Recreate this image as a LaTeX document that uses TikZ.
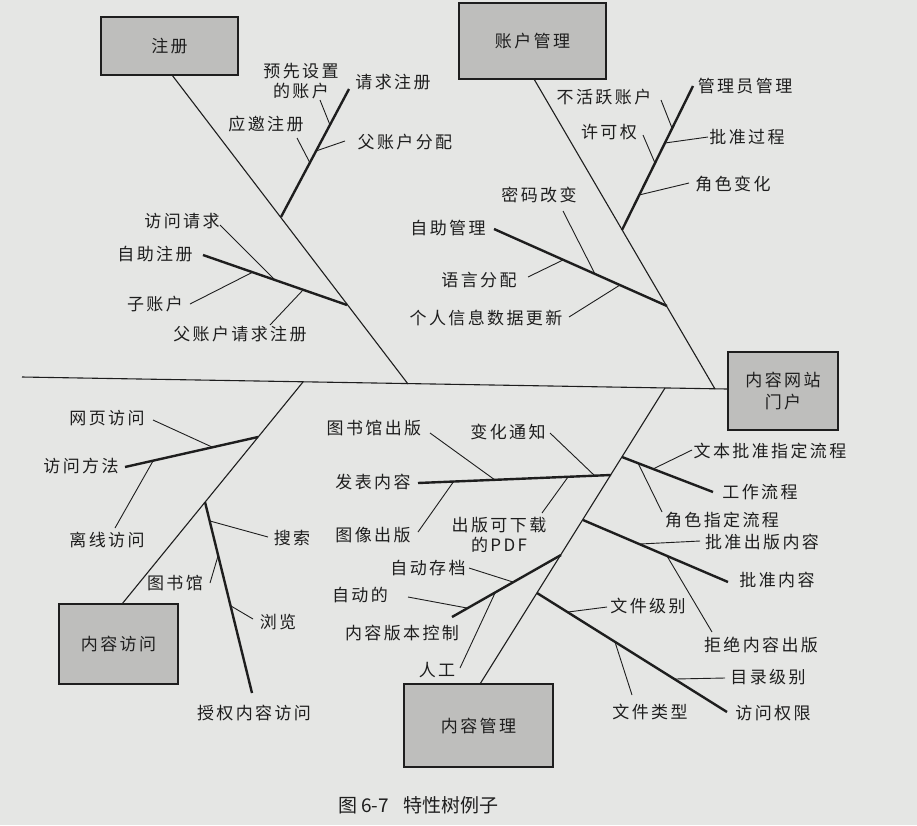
\documentclass[tikz,border=0pt]{standalone}
\usepackage{fontspec}
\newfontfamily\cjk[LetterSpace=14]{Noto Sans CJK SC}
\newfontfamily\cjkcap{Noto Sans CJK SC}
\definecolor{bgc}{RGB}{229,230,228}
\definecolor{boxc}{RGB}{190,190,188}
\definecolor{ink}{RGB}{30,30,30}
\tikzset{
  lbl/.style={font=\cjk\fontsize{17}{20}\selectfont, text=ink, inner sep=0pt, align=center},
  catbox/.style={draw=ink, fill=boxc, line width=1.4pt, inner sep=0pt, font=\cjk\fontsize{17}{22}\selectfont, text=ink, align=center},
  bone/.style={draw=ink, line width=1.1pt},
  limb/.style={draw=ink, line width=2.4pt},
  twig/.style={draw=ink, line width=0.9pt}
}
\begin{document}
\begin{tikzpicture}[x=1pt,y=-1pt]
\fill[bgc] (0,0) rectangle (917,825);
\useasboundingbox (0,0) rectangle (917,825);

% category boxes
\node[catbox, minimum width=137pt, minimum height=58pt] (reg) at (169.5,46) {注册};
\node[catbox, minimum width=147pt, minimum height=76pt] (acc) at (532.5,41) {账户管理};
\node[catbox, minimum width=110pt, minimum height=78pt] (head) at (783,391) {内容网站\\门户};
\node[catbox, minimum width=119pt, minimum height=80pt] (cacc) at (118.5,644) {内容访问};
\node[catbox, minimum width=149pt, minimum height=83pt] (cman) at (478.5,725.5) {内容管理};

% spine and main bones
\coordinate (sp0) at (22,377);
\coordinate (sp1) at (head.west |- 0,389);
\draw[bone] (sp0) -- (sp1);

\coordinate (b1a) at (172,75);   \coordinate (b1b) at (408,384);
\coordinate (b2a) at (534,79);   \coordinate (b2b) at (715,389);
\coordinate (b3a) at (122,604);  \coordinate (b3b) at (303,382);
\coordinate (b4a) at (480,684);  \coordinate (b4b) at (665,388);
\draw[bone] (b1a) -- (b1b);
\draw[bone] (b2a) -- (b2b);
\draw[bone] (b3a) -- (b3b);
\draw[bone] (b4a) -- (b4b);

% ===== 注册 =====
\node[lbl] (qqzc) at (393,82) {请求注册};
\node[lbl] (yxsz) at (301,81) {预先设置\\的账户};
\node[lbl] (fzhfp) at (405,142) {父账户分配};
\node[lbl] (yyzc) at (266,124) {应邀注册};
\coordinate (j1a) at (281,217); \coordinate (e1a) at (349,89);
\draw[limb] (j1a) -- (e1a);
\coordinate (t1) at (330,125); \coordinate (u1) at (320,100);
\draw[twig] (t1) -- (u1);
\coordinate (t2) at (316,151); \coordinate (u2) at (345,141);
\draw[twig] (t2) -- (u2);
\coordinate (t3) at (310,163); \coordinate (u3) at (297,138);
\draw[twig] (t3) -- (u3);

\node[lbl] (zzzc) at (155,254) {自助注册};
\node[lbl] (fwqq) at (182,221) {访问请求};
\node[lbl] (zzh) at (155,304) {子账户};
\node[lbl] (fzhqq) at (240,334) {父账户请求注册};
\coordinate (j1b) at (347,305); \coordinate (e1b) at (203,255);
\draw[limb] (j1b) -- (e1b);
\coordinate (t4) at (275,280); \coordinate (u4) at (220,225);
\draw[twig] (t4) -- (u4);
\coordinate (t5) at (253,272); \coordinate (u5) at (190,304);
\draw[twig] (t5) -- (u5);
\coordinate (t6) at (303,290); \coordinate (u6) at (270,325);
\draw[twig] (t6) -- (u6);

% ===== 账户管理 =====
\node[lbl] (glygl) at (745,86) {管理员管理};
\node[lbl] (bhyzh) at (604,97) {不活跃账户};
\node[lbl] (pzgc) at (747,137) {批准过程};
\node[lbl] (xkq) at (609,132) {许可权};
\node[lbl] (jsbh) at (733,184) {角色变化};
\coordinate (j2a) at (622,230); \coordinate (e2a) at (693,86);
\draw[limb] (j2a) -- (e2a);
\coordinate (t7) at (672,128); \coordinate (u7) at (661,100);
\draw[twig] (t7) -- (u7);
\coordinate (t8) at (665,143); \coordinate (u8) at (708,137);
\draw[twig] (t8) -- (u8);
\coordinate (t9) at (655,163); \coordinate (u9) at (643,135);
\draw[twig] (t9) -- (u9);
\coordinate (t10) at (639,195); \coordinate (u10) at (689,183);
\draw[twig] (t10) -- (u10);

\node[lbl] (zzgl) at (448,228) {自助管理};
\node[lbl] (mmgb) at (539,195) {密码改变};
\node[lbl] (yyfp) at (479,280) {语言分配};
\node[lbl] (grxx) at (486,318) {个人信息数据更新};
\coordinate (j2b) at (667,306); \coordinate (e2b) at (494,229);
\draw[limb] (j2b) -- (e2b);
\coordinate (t11) at (595,274); \coordinate (u11) at (563,211);
\draw[twig] (t11) -- (u11);
\coordinate (t12) at (563,260); \coordinate (u12) at (528,277);
\draw[twig] (t12) -- (u12);
\coordinate (t13) at (620,285); \coordinate (u13) at (569,317);
\draw[twig] (t13) -- (u13);

% ===== 内容访问 =====
\node[lbl] (fwff) at (81,466) {访问方法};
\node[lbl] (wyfw) at (107,418) {网页访问};
\node[lbl] (lxfw) at (107,540) {离线访问};
\coordinate (j3a) at (258,437); \coordinate (e3a) at (125,467);
\draw[limb] (j3a) -- (e3a);
\coordinate (t14) at (212,447); \coordinate (u14) at (153,420);
\draw[twig] (t14) -- (u14);
\coordinate (t15) at (153,461); \coordinate (u15) at (115,528);
\draw[twig] (t15) -- (u15);

\node[lbl] (sqnr) at (254,713) {授权内容访问};
\node[lbl] (ss) at (292,538) {搜索};
\node[lbl] (tsg) at (175,583) {图书馆};
\node[lbl] (ll) at (278,622) {浏览};
\coordinate (j3b) at (205,502); \coordinate (e3b) at (252,693);
\draw[limb] (j3b) -- (e3b);
\coordinate (t16) at (210,521); \coordinate (u16) at (268,537);
\draw[twig] (t16) -- (u16);
\coordinate (t17) at (218,556); \coordinate (u17) at (210,583);
\draw[twig] (t17) -- (u17);
\coordinate (t18) at (231,606); \coordinate (u18) at (253,619);
\draw[twig] (t18) -- (u18);

% ===== 内容管理 =====
\node[lbl] (fbnr) at (373,482) {发表内容};
\node[lbl] (tsgcb) at (374,428) {图书馆出版};
\node[lbl] (bhtz) at (508,432) {变化通知};
\node[lbl] (txcb) at (373,535) {图像出版};
\node[lbl] (pdf) at (499,535) {出版可下载\\的PDF};
\coordinate (j4a) at (611,475); \coordinate (e4a) at (418,483);
\draw[limb] (j4a) -- (e4a);
\coordinate (t19) at (495,480); \coordinate (u19) at (430,433);
\draw[twig] (t19) -- (u19);
\coordinate (t20) at (595,476); \coordinate (u20) at (550,433);
\draw[twig] (t20) -- (u20);
\coordinate (t21) at (454,481); \coordinate (u21) at (418,532);
\draw[twig] (t21) -- (u21);
\coordinate (t22) at (568,477); \coordinate (u22) at (542,513);
\draw[twig] (t22) -- (u22);

\node[lbl] (nrbb) at (402,633) {内容版本控制};
\node[lbl] (zdcd) at (428,568) {自动存档};
\node[lbl] (zdd) at (360,595) {自动的};
\node[lbl] (rg) at (437,670) {人工};
\coordinate (j4b) at (561,555); \coordinate (e4b) at (452,617);
\draw[limb] (j4b) -- (e4b);
\coordinate (t23) at (513,582); \coordinate (u23) at (469,568);
\draw[twig] (t23) -- (u23);
\coordinate (t24) at (467,608); \coordinate (u24) at (408,597);
\draw[twig] (t24) -- (u24);
\coordinate (t25) at (495,593); \coordinate (u25) at (460,668);
\draw[twig] (t25) -- (u25);

\node[lbl] (fwqx) at (773,713) {访问权限};
\node[lbl] (wjjb) at (648,606) {文件级别};
\node[lbl] (wjlx) at (650,712) {文件类型};
\node[lbl] (mljb) at (768,677) {目录级别};
\coordinate (j4c) at (537,593); \coordinate (e4c) at (727,712);
\draw[limb] (j4c) -- (e4c);
\coordinate (t26) at (568,612); \coordinate (u26) at (607,607);
\draw[twig] (t26) -- (u26);
\coordinate (t27) at (615,642); \coordinate (u27) at (632,695);
\draw[twig] (t27) -- (u27);
\coordinate (t28) at (675,679); \coordinate (u28) at (725,678);
\draw[twig] (t28) -- (u28);

% ===== workflow / approval branches =====
\node[lbl] (pznr) at (777,580) {批准内容};
\node[lbl] (pzcb) at (762,542) {批准出版内容};
\node[lbl] (jjcb) at (761,645) {拒绝内容出版};
\coordinate (j4d) at (583,520); \coordinate (e4d) at (728,582);
\draw[limb] (j4d) -- (e4d);
\coordinate (t29) at (640,544); \coordinate (u29) at (700,541);
\draw[twig] (t29) -- (u29);
\coordinate (t30) at (667,556); \coordinate (u30) at (712,632);
\draw[twig] (t30) -- (u30);

\node[lbl] (gzlc) at (760,492) {工作流程};
\node[lbl] (wbpz) at (770,451) {文本批准指定流程};
\node[lbl] (jszd) at (722,520) {角色指定流程};
\coordinate (j4e) at (622,457); \coordinate (e4e) at (713,492);
\draw[limb] (j4e) -- (e4e);
\coordinate (t31) at (653,469); \coordinate (u31) at (692,450);
\draw[twig] (t31) -- (u31);
\coordinate (t32) at (638,463); \coordinate (u32) at (662,512);
\draw[twig] (t32) -- (u32);

% caption
\node[anchor=west, inner sep=0pt, text=ink, font=\cjkcap\fontsize{19}{21}\selectfont] (cap) at (338,805) {图 6-7\hspace{14pt}特性树例子};
\end{tikzpicture}
\end{document}
